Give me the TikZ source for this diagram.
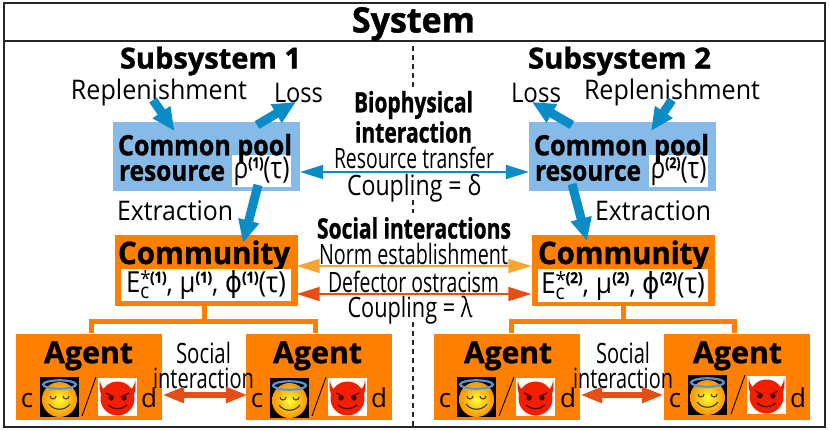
\documentclass[tikz,border=0pt]{standalone}
\usepackage{fontspec}
\usepackage{graphicx}
\setmainfont[BoldFeatures={FakeBold=1.2}]{Open Sans}
\newfontfamily\symbolfont{DejaVu Sans}
\usetikzlibrary{arrows.meta,calc}
\definecolor{poolblue}{HTML}{85BBE6}
\definecolor{flowblue}{HTML}{0A8CC6}
\definecolor{commorange}{HTML}{FF7F00}
\definecolor{normorange}{HTML}{F5A530}
\definecolor{ostraorange}{HTML}{E64E17}
\newsavebox{\fitbox}
% Sets text at a given size, condensed horizontally to a given width in points
\newcommand{\fit}[3]{\sbox{\fitbox}{\fontsize{#2}{#2}\selectfont #3}%
  \pgfmathsetmacro{\fitratio}{#1/(\wd\fitbox/1pt)}%
  \scalebox{\fitratio}[1]{\usebox{\fitbox}}}
\newcommand{\upr}[1]{\raisebox{10pt}{\fontsize{15}{15}\selectfont\bfseries(#1)}}
% E with a subscript c and a starred superscript
\newcommand{\ecstar}{E\makebox[11pt][l]{\rlap{\raisebox{-6pt}{\fontsize{21}{21}\selectfont c}}\raisebox{6pt}{\fontsize{21}{21}\selectfont *}}}
\newcommand{\phisym}{{\symbolfont ϕ}}
% Halo face on a black tile; #1, #2 give the top left corner
\newcommand{\angelface}[2]{%
  \begin{scope}[shift={(#1,#2)}]
    \fill[black] (0,0) rectangle (39,40);
    \shade[inner color=yellow!80!white,outer color=orange!85!yellow] (19.5,22.5) circle (17.5);
    \draw[cyan!60!blue!70!white,line width=2.2pt] (19.5,7.5) ellipse (16.5 and 4.2);
    \draw[black!75,line width=1.1pt] (10,19) arc[start angle=180,end angle=0,radius=3];
    \draw[black!75,line width=1.1pt] (23,19) arc[start angle=180,end angle=0,radius=3];
    \draw[black!75,line width=1.2pt] (9,27) .. controls (14,34) and (25,34) .. (30,27);
  \end{scope}}
% Horned face on a white tile; #1, #2 give the top left corner
\newcommand{\devilface}[2]{%
  \begin{scope}[shift={(#1,#2)}]
    \fill[white] (0,0) rectangle (39,38);
    \fill[red!75!orange!95!black] (19.5,20.5) circle (17);
    \fill[red!75!orange!95!black] (2,1) .. controls (2,9) and (6,13) .. (11,13) -- (5,20) .. controls (1,14) and (1,8) .. cycle;
    \fill[red!75!orange!95!black] (37,1) .. controls (37,9) and (33,13) .. (28,13) -- (34,20) .. controls (38,14) and (38,8) .. cycle;
    \fill[black!70!red] (13,20) circle (2.6);
    \fill[black!70!red] (26,20) circle (2.6);
    \draw[black!70!red,line width=1.3pt] (8,15) -- (16,19);
    \draw[black!70!red,line width=1.3pt] (31,15) -- (23,19);
    \draw[black!70!red,line width=1.2pt] (10,27) .. controls (15,32) and (24,32) .. (29,27);
  \end{scope}}
\tikzset{
  x=1pt,y=-1pt,
  label/.style={inner sep=0pt,anchor=center,yshift=-2pt},
  letter/.style={inner sep=0pt,anchor=base,font=\fontsize{26}{26}\selectfont},
  poolbox/.style={fill=poolblue,inner sep=0pt,minimum width=187pt,minimum height=69pt},
  commbox/.style={fill=commorange,inner sep=0pt,minimum width=183pt,minimum height=71pt},
  agentbox/.style={fill=commorange,inner sep=0pt,minimum width=146pt,minimum height=86pt},
  valuebox/.style={fill=white,inner sep=0pt},
  flow/.style={flowblue,line width=9pt,-{Triangle[length=23pt,width=20pt]}},
  couple/.style={line width=1.6pt,{Triangle[length=23pt,width=14pt]}-{Triangle[length=23pt,width=14pt]}},
  socialarrow/.style={ostraorange,line width=6pt,{Triangle[length=22pt,width=15pt]}-{Triangle[length=22pt,width=15pt]}},
  tree/.style={commorange,line width=5pt,line join=miter},
  slash/.style={black,line width=0.9pt},
  divide/.style={black!85,line width=1.1pt,dash pattern=on 5pt off 4pt}
}
\begin{document}
\begin{tikzpicture}
\useasboundingbox (0,0) rectangle (830,431);
\fill[white] (0,0) rectangle (830,431);
% Outer frame, title rule and the divide between the subsystems
\draw[black!85,line width=1.3pt] (4,3) rectangle (825,427);
\draw[black!85,line width=1.1pt] (4,41) -- (825,41);
\draw[divide] (413,46) -- (413,87);
\draw[divide] (413,200) -- (413,213);
\draw[divide] (413,322) -- (413,427);

\node[label] (title) at (413.5,22) {\fit{123}{35}{\bfseries System}};
\node[label] (sub1) at (210.5,59) {\fit{181}{29}{\bfseries Subsystem 1}};
\node[label] (sub2) at (619.5,59) {\fit{183}{29}{\bfseries Subsystem 2}};

% Resource boxes
\node[poolbox] (cpr1) at (206.5,156.5) {};
\node[poolbox] (cpr2) at (622.5,156.5) {};
\node[valuebox,minimum width=59pt,minimum height=32pt] (rho1) at (261.5,171) {\fit{56}{30}{ρ\upr{1}(τ)}};
\node[valuebox,minimum width=59pt,minimum height=32pt] (rho2) at (678.5,171) {\fit{56}{30}{ρ\upr{2}(τ)}};
\node[label] (pool1) at (205,146) {\fit{174}{28}{\bfseries Common pool}};
\node[label] (res1) at (172,171) {\fit{106}{28}{\bfseries resource}};
\node[label] (pool2) at (621.5,146) {\fit{175}{28}{\bfseries Common pool}};
\node[label] (res2) at (588,171) {\fit{106}{28}{\bfseries resource}};

% Community boxes
\node[commbox] (com1) at (206,270.5) {};
\node[commbox] (com2) at (623.5,270.5) {};
\node[label] (comt1) at (204,254) {\fit{172}{31}{\bfseries Community}};
\node[label] (comt2) at (623.5,254) {\fit{171}{31}{\bfseries Community}};
\node[valuebox,minimum width=170pt,minimum height=32pt] (val1) at (206,285) {\fit{160}{29}{\ecstar\upr{1}, μ\upr{1}, \phisym\upr{1}(τ)}};
\node[valuebox,minimum width=170pt,minimum height=33pt] (val2) at (623,285.5) {\fit{164}{29}{\ecstar\upr{2}, μ\upr{2}, \phisym\upr{2}(τ)}};

% Agent boxes
\node[agentbox] (a1) at (89,376.5) {};
\node[agentbox] (a2) at (319,376.5) {};
\node[agentbox] (a3) at (507,376.5) {};
\node[agentbox] (a4) at (737,376.5) {};
\node[label] (at1) at (88.5,354) {\fit{89}{30}{\bfseries Agent}};
\node[label] (at2) at (317.5,354) {\fit{89}{30}{\bfseries Agent}};
\node[label] (at3) at (508,354) {\fit{88}{30}{\bfseries Agent}};
\node[label] (at4) at (737.5,354) {\fit{89}{30}{\bfseries Agent}};

% Branches from each community down to its agents
\coordinate (j1) at (204,321.5);
\coordinate (j2) at (623,321.5);
\draw[tree] ([xshift=-2pt]com1.south) -- (j1);
\draw[tree] ([xshift=2.7pt]a1.north) |- (j1) -| ([xshift=-4pt]a2.north);
\draw[tree] ([xshift=-0.5pt]com2.south) -- (j2);
\draw[tree] ([xshift=4pt]a3.north) |- (j2) -| ([xshift=-2.6pt]a4.north);

% Strategy faces and their letters
\angelface{40}{377}\devilface{98}{378}
\angelface{270}{378}\devilface{328}{378}
\angelface{457}{377}\devilface{516}{378}
\angelface{688}{375}\devilface{747}{376}
\draw[slash] (82,416) -- (96,377);
\draw[slash] (312,416) -- (326,377);
\draw[slash] (499,416) -- (514,377);
\draw[slash] (731,414) -- (745,375);
\node[letter] (c1) at (27,407) {c};
\node[letter] (d1) at (149,407) {d};
\node[letter] (c2) at (257,407) {c};
\node[letter] (d2) at (379,407) {d};
\node[letter] (c3) at (445,407) {c};
\node[letter] (d3) at (568,407) {d};
\node[letter] (c4) at (675,407) {c};
\node[letter] (d4) at (798,407) {d};

% Free labels
\node[label] (rep1) at (159,90) {\fit{176}{27}{Replenishment}};
\node[label] (loss1) at (298.5,91) {\fit{49}{27}{Loss}};
\node[label] (loss2) at (536,91) {\fit{50}{27}{Loss}};
\node[label] (rep2) at (672,90) {\fit{176}{27}{Replenishment}};
\node[label] (ext1) at (175,209) {\fit{116}{27}{Extraction}};
\node[label] (ext2) at (653,209) {\fit{116}{27}{Extraction}};
\node[label] (bio1) at (413.5,103) {\fit{119}{28}{\bfseries Biophysical}};
\node[label] (bio2) at (413.5,130) {\fit{117}{28}{\bfseries interaction}};
\node[label] (rt) at (414,155.5) {\fit{160}{28}{Resource transfer}};
\node[label] (cd) at (414,186) {\fit{134}{28}{Coupling = δ}};
\node[label] (si) at (414,226) {\fit{194}{28}{\bfseries Social interactions}};
\node[label] (ne) at (413.5,251.5) {\fit{189}{28}{Norm establishment}};
\node[label] (dost) at (413.5,279.5) {\fit{171}{28}{Defector ostracism}};
\node[label] (cl) at (410,308) {\fit{125}{28}{Coupling = λ}};
\node[label] (s1) at (203.5,351) {\fit{55}{28}{Social}};
\node[label] (i1) at (203.5,376) {\fit{101}{28}{interaction}};
\node[label] (s2) at (623,351) {\fit{54}{28}{Social}};
\node[label] (i2) at (623,376) {\fit{100}{28}{interaction}};

% Resource flows into and out of the pools
\coordinate (repT1) at (153,100); \coordinate (repH1) at (174.5,131);
\coordinate (lossT1) at (257,125); \coordinate (lossH1) at (296,102);
\coordinate (extT1) at (258,185); \coordinate (extH1) at (243,243);
\coordinate (repT2) at (672,100); \coordinate (repH2) at (651,131);
\coordinate (lossT2) at (572,125); \coordinate (lossH2) at (532,102);
\coordinate (extT2) at (572,184); \coordinate (extH2) at (587,241);
\draw[flow] (repT1) -- (repH1);
\draw[flow] (lossT1) -- (lossH1);
\draw[flow] (extT1) -- (extH1);
\draw[flow] (repT2) -- (repH2);
\draw[flow] (lossT2) -- (lossH2);
\draw[flow] (extT2) -- (extH2);

% Couplings between the subsystems
\draw[couple,flowblue] ([yshift=-15.5pt]cpr1.east) -- ([yshift=-15.5pt]cpr2.west);
\draw[couple,normorange] ([yshift=4.5pt,xshift=-1pt]com1.east) -- ([yshift=4.5pt,xshift=-.5pt]com2.west);
\draw[couple,ostraorange] ([yshift=-23.5pt,xshift=-1pt]com1.east) -- ([yshift=-23.5pt,xshift=-.5pt]com2.west);
\draw[socialarrow] ([yshift=-18.5pt]a1.east) -- ([yshift=-18.5pt,xshift=2pt]a2.west);
\draw[socialarrow] ([yshift=-18.5pt]a3.east) -- ([yshift=-18.5pt]a4.west);
\end{tikzpicture}
\end{document}
